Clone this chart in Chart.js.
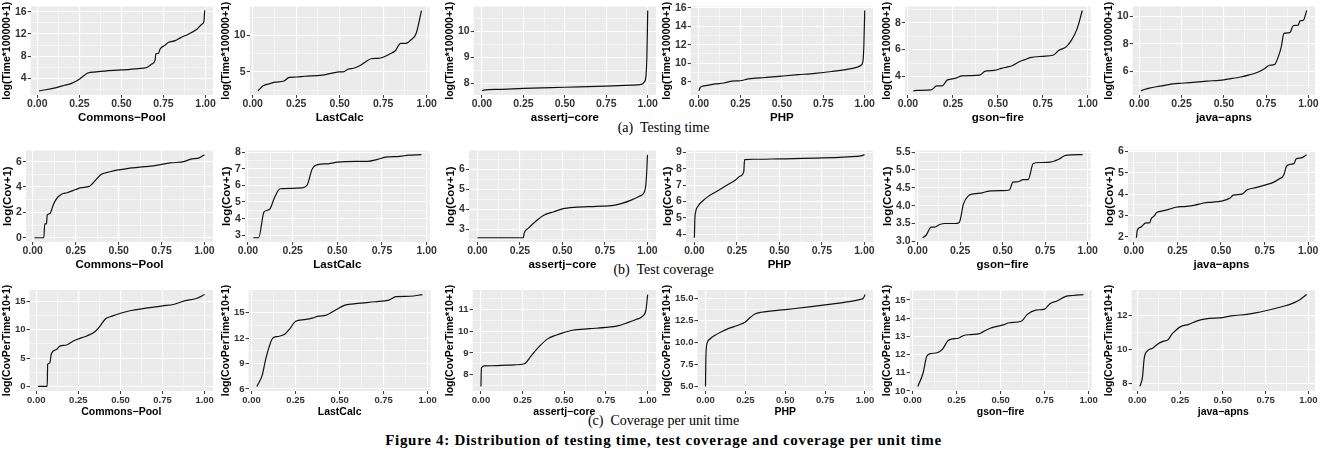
<!DOCTYPE html>
<html>
<head>
<meta charset="utf-8">
<script src="https://cdn.jsdelivr.net/npm/chart.js@4.4.1/dist/chart.umd.min.js"></script>
<style>
    body { margin: 0; background: #fff; width: 1327px; height: 450px; overflow: hidden; position: relative; }
    canvas { position: absolute; }
    .caption {
        position: absolute; left: 0; width: 1327px; text-align: center;
        font-family: 'Liberation Serif', 'DejaVu Serif', serif; font-size: 14px;
        line-height: 18px; color: #000; white-space: pre;
    }
    .figure { font-weight: bold; font-size: 15px; letter-spacing: 0.7px; }
</style>
</head>
<body>
<div class="caption" style="top:119px">(a)  Testing time</div>
<div class="caption" style="top:261px">(b)  Test coverage</div>
<div class="caption" style="top:412px">(c)  Coverage per unit time</div>
<div class="caption figure" style="top:431px">Figure 4: Distribution of testing time, test coverage and coverage per unit time</div>
<script>
// projects (x axis titles)
const projects = ['Commons−Pool', 'LastCalc', 'assertj−core', 'PHP', 'gson−fire', 'java−apns'];
const xTickLabels = ['0.00', '0.25', '0.50', '0.75', '1.00'];

// (a) testing time: log(Time*100000+1)
const timePoolX = [0.01, 0.05, 0.10, 0.15, 0.20, 0.25, 0.28, 0.30, 0.35, 0.40, 0.50, 0.60, 0.65, 0.68, 0.70, 0.705, 0.72, 0.73, 0.76, 0.78, 0.82, 0.85, 0.90, 0.95, 0.98, 0.99, 0.995];
const timePoolY = [1.8, 2.0, 2.3, 2.7, 3.1, 3.9, 4.6, 5.0, 5.2, 5.35, 5.55, 5.8, 6.0, 6.6, 7.3, 8.5, 8.5, 9.3, 10.0, 10.5, 10.8, 11.3, 12.0, 12.9, 13.8, 14.2, 16.2];
const timeLastX = [0.03, 0.06, 0.10, 0.13, 0.18, 0.21, 0.25, 0.30, 0.40, 0.45, 0.50, 0.52, 0.55, 0.58, 0.62, 0.65, 0.68, 0.72, 0.75, 0.80, 0.82, 0.85, 0.88, 0.91, 0.94, 0.97];
const timeLastY = [2.4, 3.1, 3.4, 3.6, 3.75, 4.25, 4.3, 4.4, 4.55, 4.8, 5.0, 5.0, 5.4, 5.5, 5.9, 6.4, 6.8, 6.85, 7.0, 7.6, 7.9, 8.9, 8.9, 9.4, 10.3, 13.4];
const timeAssertX = [0.0, 0.01, 0.10, 0.25, 0.50, 0.75, 0.90, 0.96, 0.98, 0.99, 0.995, 0.998, 1.0];
const timeAssertY = [7.7, 7.73, 7.76, 7.8, 7.84, 7.88, 7.92, 7.95, 8.05, 8.3, 9.0, 10.0, 10.8];
const timePhpX = [0.0, 0.005, 0.02, 0.05, 0.10, 0.15, 0.20, 0.25, 0.30, 0.40, 0.50, 0.60, 0.70, 0.80, 0.90, 0.95, 0.98, 0.99, 0.995, 1.0];
const timePhpY = [7.0, 7.3, 7.5, 7.6, 7.75, 7.85, 8.05, 8.1, 8.3, 8.45, 8.6, 8.75, 8.9, 9.1, 9.35, 9.55, 9.8, 10.3, 12.0, 15.7];
const timeGsonX = [0.03, 0.05, 0.13, 0.16, 0.19, 0.22, 0.24, 0.27, 0.30, 0.35, 0.40, 0.43, 0.48, 0.52, 0.55, 0.58, 0.62, 0.65, 0.68, 0.75, 0.81, 0.84, 0.88, 0.91, 0.94, 0.97];
const timeGsonY = [2.93, 2.97, 3.0, 3.3, 3.3, 3.75, 3.8, 3.9, 4.05, 4.07, 4.1, 4.4, 4.45, 4.6, 4.7, 4.8, 5.1, 5.25, 5.4, 5.5, 5.6, 5.95, 6.2, 6.7, 7.5, 8.9];
const timeApnsX = [0.01, 0.03, 0.06, 0.10, 0.15, 0.20, 0.25, 0.30, 0.40, 0.50, 0.55, 0.60, 0.65, 0.70, 0.74, 0.77, 0.80, 0.82, 0.84, 0.855, 0.89, 0.91, 0.94, 0.95, 0.97, 0.99];
const timeApnsY = [4.6, 4.7, 4.8, 4.9, 5.0, 5.1, 5.15, 5.2, 5.3, 5.4, 5.5, 5.6, 5.75, 5.95, 6.2, 6.45, 6.5, 7.0, 7.8, 8.75, 8.8, 9.3, 9.35, 9.65, 9.7, 10.4];

// (b) test coverage: log(Cov+1)
const covPoolX = [0.01, 0.065, 0.07, 0.08, 0.085, 0.10, 0.12, 0.14, 0.17, 0.20, 0.25, 0.28, 0.33, 0.35, 0.37, 0.40, 0.45, 0.50, 0.55, 0.65, 0.72, 0.80, 0.88, 0.92, 0.97, 1.0];
const covPoolY = [0, 0, 1.1, 1.1, 1.8, 1.9, 2.6, 3.1, 3.45, 3.55, 3.8, 3.95, 4.05, 4.3, 4.6, 5.0, 5.2, 5.35, 5.45, 5.6, 5.7, 5.9, 6.0, 6.2, 6.3, 6.55];
const covLastX = [0.03, 0.06, 0.09, 0.12, 0.15, 0.18, 0.25, 0.30, 0.33, 0.36, 0.39, 0.45, 0.50, 0.60, 0.67, 0.72, 0.77, 0.85, 0.90, 0.97];
const covLastY = [2.85, 2.85, 4.4, 4.55, 5.3, 5.8, 5.82, 5.85, 6.0, 7.0, 7.25, 7.3, 7.4, 7.45, 7.45, 7.55, 7.7, 7.75, 7.82, 7.85];
const covAssertX = [0.0, 0.27, 0.275, 0.30, 0.35, 0.39, 0.45, 0.50, 0.57, 0.70, 0.80, 0.85, 0.90, 0.95, 0.98, 0.99, 0.995, 1.0];
const covAssertY = [2.57, 2.57, 2.8, 3.05, 3.45, 3.7, 3.88, 4.02, 4.1, 4.15, 4.2, 4.3, 4.45, 4.65, 4.85, 5.2, 5.8, 6.75];
const covPhpX = [0.0, 0.002, 0.008, 0.02, 0.05, 0.08, 0.12, 0.16, 0.20, 0.24, 0.27, 0.29, 0.295, 0.35, 0.50, 0.75, 0.90, 0.98, 1.0];
const covPhpY = [3.8, 4.8, 5.4, 5.7, 6.05, 6.3, 6.55, 6.8, 7.05, 7.3, 7.55, 7.8, 8.55, 8.57, 8.6, 8.65, 8.72, 8.78, 8.85];
const covGsonX = [0.03, 0.05, 0.08, 0.10, 0.13, 0.16, 0.22, 0.245, 0.27, 0.30, 0.33, 0.38, 0.42, 0.50, 0.54, 0.56, 0.59, 0.62, 0.65, 0.68, 0.72, 0.78, 0.83, 0.87, 0.97];
const covGsonY = [3.1, 3.17, 3.4, 3.4, 3.47, 3.5, 3.5, 3.53, 4.05, 4.28, 4.33, 4.36, 4.41, 4.42, 4.44, 4.66, 4.67, 4.73, 4.73, 5.18, 5.21, 5.22, 5.3, 5.41, 5.43];
const covApnsX = [0.015, 0.02, 0.04, 0.07, 0.09, 0.10, 0.12, 0.13, 0.16, 0.20, 0.24, 0.30, 0.35, 0.40, 0.45, 0.50, 0.55, 0.57, 0.62, 0.65, 0.70, 0.75, 0.80, 0.83, 0.86, 0.875, 0.90, 0.92, 0.93, 0.96, 0.99];
const covApnsY = [1.95, 2.3, 2.45, 2.65, 2.65, 2.85, 3.0, 3.13, 3.2, 3.28, 3.38, 3.42, 3.48, 3.58, 3.62, 3.67, 3.8, 3.95, 4.0, 4.2, 4.3, 4.42, 4.55, 4.7, 4.9, 5.3, 5.4, 5.45, 5.65, 5.7, 5.85];

// (c) coverage per unit time: log(CovPerTime*10+1)
const cptPoolX = [0.01, 0.065, 0.068, 0.08, 0.09, 0.12, 0.14, 0.18, 0.22, 0.27, 0.30, 0.35, 0.38, 0.41, 0.45, 0.50, 0.55, 0.65, 0.75, 0.82, 0.88, 0.95, 1.0];
const cptPoolY = [0, 0, 3.9, 4.1, 5.8, 6.5, 7.1, 7.3, 8.0, 8.6, 8.9, 9.7, 10.7, 11.9, 12.4, 12.9, 13.3, 13.8, 14.2, 14.5, 15.1, 15.5, 16.2];
const cptLastX = [0.03, 0.06, 0.08, 0.10, 0.12, 0.15, 0.19, 0.22, 0.25, 0.30, 0.35, 0.38, 0.42, 0.45, 0.50, 0.53, 0.60, 0.70, 0.78, 0.82, 0.90, 0.97];
const cptLastY = [6.3, 7.6, 9.5, 11.0, 12.0, 12.2, 12.5, 13.2, 14.0, 14.2, 14.4, 14.6, 14.7, 15.0, 15.6, 15.9, 16.1, 16.3, 16.5, 16.9, 16.95, 17.15];
const cptAssertX = [0.0, 0.003, 0.02, 0.10, 0.20, 0.26, 0.30, 0.35, 0.40, 0.45, 0.50, 0.55, 0.65, 0.75, 0.82, 0.88, 0.93, 0.97, 0.99, 1.0];
const cptAssertY = [7.45, 8.3, 8.4, 8.41, 8.45, 8.5, 8.85, 9.3, 9.65, 9.82, 9.95, 10.05, 10.12, 10.18, 10.25, 10.4, 10.55, 10.7, 11.0, 11.7];
const cptPhpX = [0.0, 0.002, 0.005, 0.01, 0.03, 0.06, 0.10, 0.15, 0.20, 0.25, 0.28, 0.31, 0.35, 0.50, 0.65, 0.80, 0.90, 0.97, 0.99, 1.0];
const cptPhpY = [5.0, 8.0, 9.3, 9.9, 10.4, 10.8, 11.2, 11.6, 11.9, 12.3, 12.8, 13.2, 13.4, 13.7, 14.0, 14.35, 14.6, 14.85, 15.0, 15.4];
const cptGsonX = [0.03, 0.06, 0.08, 0.10, 0.14, 0.17, 0.20, 0.22, 0.26, 0.29, 0.33, 0.38, 0.40, 0.44, 0.48, 0.52, 0.55, 0.62, 0.65, 0.70, 0.75, 0.78, 0.82, 0.87, 0.91, 0.97];
const cptGsonY = [10.25, 11.0, 11.9, 12.05, 12.1, 12.3, 12.75, 12.85, 12.9, 13.05, 13.1, 13.15, 13.25, 13.45, 13.55, 13.65, 13.75, 13.85, 14.2, 14.45, 14.5, 14.8, 14.95, 15.2, 15.25, 15.3];
const cptApnsX = [0.015, 0.03, 0.04, 0.06, 0.09, 0.12, 0.15, 0.18, 0.20, 0.22, 0.25, 0.30, 0.35, 0.40, 0.50, 0.55, 0.65, 0.75, 0.85, 0.90, 0.95, 0.99];
const cptApnsY = [7.85, 8.4, 9.5, 9.95, 10.1, 10.35, 10.5, 10.6, 10.9, 11.1, 11.35, 11.5, 11.7, 11.82, 11.9, 12.0, 12.1, 12.3, 12.55, 12.7, 12.95, 13.25];

// y tick labels for every panel
const timeTicks = [
    ['4', '8', '12', '16'], ['5', '10'], ['8', '9', '10'],
    ['8', '10', '12', '14', '16'], ['4', '6', '8'], ['6', '8', '10']
];
const covTicks = [
    ['0', '2', '4', '6'], ['3', '4', '5', '6', '7', '8'], ['3', '4', '5', '6'],
    ['4', '5', '6', '7', '8', '9'], ['3.0', '3.5', '4.0', '4.5', '5.0', '5.5'], ['2', '3', '4', '5', '6']
];
const cptTicks = [
    ['0', '5', '10', '15'], ['6', '9', '12', '15'], ['8', '9', '10', '11'],
    ['5.0', '7.5', '10.0', '12.5', '15.0'], ['10', '11', '12', '13', '14', '15'], ['8', '10', '12']
];

const colLeft = [0, 219, 443, 660, 880, 1102];
const colWidth = 219;

// grey ggplot panel
const panelBackground = {
    id: 'panelBackground',
    beforeDraw(chart) {
        const { ctx, chartArea } = chart;
        ctx.save();
        ctx.fillStyle = '#EBEBEB';
        ctx.fillRect(chartArea.left, chartArea.top, chartArea.width, chartArea.height);
        ctx.restore();
    }
};

function expandRange(values) {
    const lo = Math.min(...values);
    const hi = Math.max(...values);
    const pad = (hi - lo) * 0.05;
    return [lo - pad, hi + pad];
}

function axisOptions(labels, range, title, tickSize, titleSize) {
    const majors = labels.map(Number);
    const step = majors.length > 1 ? majors[1] - majors[0] : 1;
    const isMajor = v => majors.some(m => Math.abs(m - v) < 1e-6);
    const labelFor = v => {
        const i = majors.findIndex(m => Math.abs(m - v) < 1e-6);
        return i >= 0 ? labels[i] : '';
    };
    const values = [];
    for (let k = -2; k <= 2 * (majors.length - 1) + 2; k++) {
        const v = Math.round((majors[0] + k * step / 2) * 1e6) / 1e6;
        if (v >= range[0] && v <= range[1]) values.push(v);
    }

    return {
        type: 'linear',
        min: range[0],
        max: range[1],
        border: { display: false },
        afterBuildTicks: scale => {
            scale.ticks = values.map(v => ({ value: v }));
        },
        grid: {
            color: '#FFFFFF',
            lineWidth: ctx => (ctx.tick && isMajor(ctx.tick.value)) ? 1.1 : 0.5,
            tickColor: ctx => (ctx.tick && isMajor(ctx.tick.value)) ? '#333333' : 'rgba(0,0,0,0)',
            tickLength: 3,
            tickWidth: 1
        },
        ticks: {
            autoSkip: false,
            maxRotation: 0,
            padding: 1,
            color: '#333333',
            font: { family: 'Liberation Sans', weight: 'bold', size: tickSize, lineHeight: 1.05 },
            callback: v => labelFor(v)
        },
        title: {
            display: true,
            text: title,
            color: '#000000',
            padding: { top: 1, bottom: 1 },
            font: { family: 'Liberation Sans', weight: 'bold', size: titleSize, lineHeight: 1.05 }
        }
    };
}

function drawPanel(col, top, height, xs, ys, yLabels, yTitle, sizes) {
    const canvas = document.createElement('canvas');
    canvas.width = colWidth;
    canvas.height = height;
    canvas.style.left = colLeft[col] + 'px';
    canvas.style.top = top + 'px';
    document.body.appendChild(canvas);

    return new Chart(canvas.getContext('2d'), {
        type: 'line',
        data: {
            datasets: [{
                data: xs.map((x, i) => ({ x: x, y: ys[i] })),
                borderColor: '#111111',
                borderWidth: 1.2,
                pointRadius: 0,
                cubicInterpolationMode: 'monotone',
                fill: false
            }]
        },
        options: {
            responsive: false,
            animation: false,
            layout: { padding: { top: 4, right: 6, left: 1, bottom: 0 } },
            plugins: {
                legend: { display: false },
                tooltip: { enabled: false }
            },
            scales: {
                x: axisOptions(xTickLabels, expandRange(xs), projects[col], sizes.tick, sizes.xTitle),
                y: axisOptions(yLabels, expandRange(ys), yTitle, sizes.tick, sizes.yTitle)
            }
        },
        plugins: [panelBackground]
    });
}

const timeFont = { tick: 10.5, xTitle: 11.5, yTitle: 10.5 };
const covFont = { tick: 10.5, xTitle: 11.5, yTitle: 11.5 };
const cptFont = { tick: 9.5, xTitle: 10.5, yTitle: 10.5 };

const timeX = [timePoolX, timeLastX, timeAssertX, timePhpX, timeGsonX, timeApnsX];
const timeY = [timePoolY, timeLastY, timeAssertY, timePhpY, timeGsonY, timeApnsY];
const covX = [covPoolX, covLastX, covAssertX, covPhpX, covGsonX, covApnsX];
const covY = [covPoolY, covLastY, covAssertY, covPhpY, covGsonY, covApnsY];
const cptX = [cptPoolX, cptLastX, cptAssertX, cptPhpX, cptGsonX, cptApnsX];
const cptY = [cptPoolY, cptLastY, cptAssertY, cptPhpY, cptGsonY, cptApnsY];

for (let c = 0; c < 6; c++) {
    drawPanel(c, 0, 125, timeX[c], timeY[c], timeTicks[c], 'log(Time*100000+1)', timeFont);
    drawPanel(c, 144, 128, covX[c], covY[c], covTicks[c], 'log(Cov+1)', covFont);
    drawPanel(c, 284, 135, cptX[c], cptY[c], cptTicks[c], 'log(CovPerTime*10+1)', cptFont);
}
</script>
</body>
</html>
